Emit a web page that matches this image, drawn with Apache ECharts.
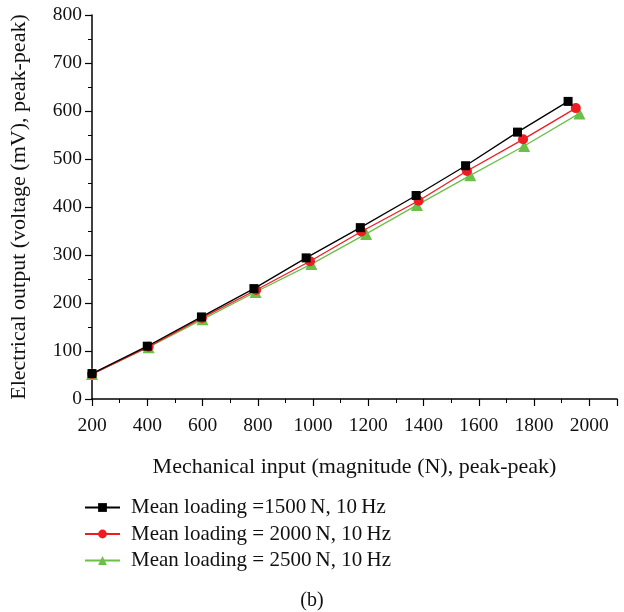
<!DOCTYPE html>
<html>
<head>
<meta charset="utf-8">
<script src="https://cdn.jsdelivr.net/npm/echarts@6/dist/echarts.min.js"></script>
<style>
html,body{margin:0;padding:0;background:#fff;}
#chart{width:624px;height:612px;}
</style>
</head>
<body>
<div id="chart"></div>
<script>
// series names
var seriesNames = ['Mean loading =1500\u2009N, 10\u2009Hz', 'Mean loading = 2000\u2009N, 10\u2009Hz', 'Mean loading = 2500\u2009N, 10\u2009Hz'];
// mechanical input (N) per point
var x1500 = [200, 400, 596, 786, 975, 1171, 1373, 1552, 1740, 1923];
var x2000 = [200, 405, 598, 794, 989, 1175, 1382, 1557, 1760, 1951];
var x2500 = [200, 405, 600, 792, 994, 1192, 1376, 1569, 1764, 1964];
// electrical output (mV)
var y1500 = [53, 110, 171, 230, 294, 357, 424, 486, 556, 620];
var y2000 = [52, 109, 169, 227, 287, 349, 413, 475, 541, 606];
var y2500 = [52, 108, 166, 223, 281, 344, 404, 466, 527, 595];

var colors = ['#000000', '#ee1d24', '#6cbf47'];
var symbols = ['rect', 'circle', 'triangle'];
var sizes = [9, 10, 12];
var font = 'Liberation Serif';

function pairs(xs, ys){
	var out = [];
	for (var i = 0; i < xs.length; i++) { out.push([xs[i], ys[i]]); }
	return out;
}

var data = [pairs(x1500, y1500), pairs(x2000, y2000), pairs(x2500, y2500)];
var series = [];
for (var i = 0; i < data.length; i++) {
	series.push({
		name: seriesNames[i],
		type: 'line',
		data: data[i],
		symbol: symbols[i],
		symbolSize: sizes[i],
		z: 10 - i,
		itemStyle: {color: colors[i]},
		lineStyle: {color: colors[i], width: 1.3}
	});
}

var axisCommon = {
	axisLine: {show: true, onZero: false, lineStyle: {color: '#000', width: 1.5}},
	axisTick: {show: true, length: 7, lineStyle: {color: '#000', width: 1.2}},
	minorTick: {show: true, splitNumber: 2, length: 4, lineStyle: {color: '#000', width: 1}},
	splitLine: {show: false},
	nameTextStyle: {fontFamily: font, fontSize: 22, color: '#111'}
};

var myChart = echarts.init(document.getElementById('chart'));
var option = {
	animation: false,
	textStyle: {fontFamily: font},
	title: {
		text: '(b)',
		left: 'center',
		top: 586,
		textStyle: {fontFamily: font, fontSize: 20, fontWeight: 'normal', color: '#111'}
	},
	legend: {
		orient: 'vertical',
		left: 84,
		top: 497,
		padding: 0,
		itemWidth: 35,
		itemHeight: 11,
		itemGap: 5.5,
		textStyle: {fontFamily: font, fontSize: 21, color: '#111', padding: [0, 0, 0, 6]},
		data: seriesNames
	},
	grid: {left: 91, right: 7, top: 15, bottom: 213, containLabel: false},
	xAxis: echarts.util.merge({
		type: 'value',
		min: 200,
		max: 2100,
		interval: 200,
		name: 'Mechanical input (magnitude (N), peak-peak)',
		nameLocation: 'middle',
		nameGap: 57,
		axisLabel: {fontFamily: font, fontSize: 19.5, color: '#111', margin: 17, showMaxLabel: false,
			formatter: function(v){ return String(v); }}
	}, axisCommon, true),
	yAxis: echarts.util.merge({
		type: 'value',
		min: 0,
		max: 800,
		interval: 100,
		name: 'Electrical output (voltage (mV), peak-peak)',
		nameLocation: 'middle',
		nameGap: 62,
		axisLabel: {fontFamily: font, fontSize: 19.5, color: '#111', margin: 10}
	}, axisCommon, true),
	series: series
};
myChart.setOption(option, true);
</script>
</body>
</html>
